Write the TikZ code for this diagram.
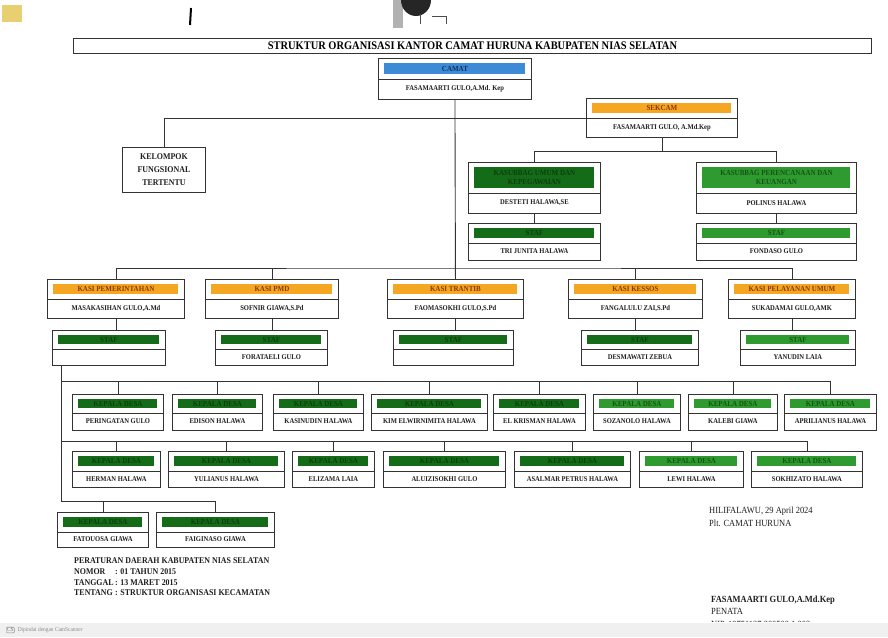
\documentclass[tikz,border=0pt]{standalone}
\usepackage{fontspec}
\setmainfont{Liberation Serif}[FakeStretch=0.9]
\usetikzlibrary{calc}
\definecolor{lnc}{HTML}{333333}
\definecolor{bluebar}{HTML}{3D8AD6}
\definecolor{bluetxt}{HTML}{10305F}
\definecolor{orangebar}{HTML}{F5A623}
\definecolor{orangetxt}{HTML}{8B3A00}
\definecolor{greenbar}{HTML}{146C18}
\definecolor{greentxt}{HTML}{0B3F0D}
\definecolor{greenbarb}{HTML}{2E9A2F}
\definecolor{greentxtb}{HTML}{135514}
\definecolor{inkc}{HTML}{1E1E1E}
\tikzset{
  unitbox/.style={draw=lnc, line width=0.9pt, fill=white, inner sep=0pt},
  hbar/.style={draw=none, inner sep=0pt, align=center, font=\bfseries\fontsize{7.8}{8.6}\selectfont},
  bbar/.style={fill=bluebar, text=bluetxt},
  obar/.style={fill=orangebar, text=orangetxt},
  gbar/.style={fill=greenbar, text=greentxt},
  gbarb/.style={fill=greenbarb, text=greentxtb},
  pname/.style={inner sep=0pt, text=inkc, font=\bfseries\fontsize{7.3}{8}\selectfont},
  conn/.style={draw=lnc, line width=0.9pt},
  divline/.style={draw=lnc, line width=0.6pt},
  note/.style={inner sep=0pt, text=inkc, anchor=west},
}
% #1 name, #2 x, #3 y, #4 width, #5 height, #6 bar style, #7 bar height, #8 header, #9 person
\newcommand{\orgbox}[9]{%
  \node[unitbox, minimum width=#4pt, minimum height=#5pt, anchor=north west] (#1) at (#2,#3) {};
  \node[hbar, #6, minimum width=#4pt-12pt, minimum height=#7pt, anchor=north] (#1-h) at ($(#1.north)+(0,5)$) {#8};
  \draw[divline] ($(#1.north west)+(0,10+#7)$) -- ($(#1.north east)+(0,10+#7)$);
  \node[pname] (#1-p) at ($(#1.north)+(0,{(10+#7+#5)/2})$) {#9};
}
\begin{document}
\begin{tikzpicture}[x=1pt,y=-1pt]
\useasboundingbox (0,0) rectangle (888,637);
\fill[white] (0,0) rectangle (888,637);
\fill[black!6] (0,623) rectangle (888,637);
% scan artifacts at top
\fill[yellow!45!brown!70] (2,5) rectangle (22,22);
\draw[black, line width=2pt] (191,8) -- (190,25);
\fill[black!30] (393,0) rectangle (403,28);
\fill[black!85] (416,0) ellipse [x radius=15, y radius=16];
\draw[black!70, line width=0.8pt] (420,14) -- (420,24) (432,16) -- (446,16) -- (446,24);

% title
\node[unitbox, minimum width=798pt, minimum height=15pt, anchor=north west,
      font=\bfseries\fontsize{11.6}{12}\selectfont] (title) at (73,38)
      {STRUKTUR ORGANISASI KANTOR CAMAT HURUNA KABUPATEN NIAS SELATAN};

% top units
\orgbox{camat}{378}{58}{153}{41}{bbar}{11}{CAMAT}{FASAMAARTI GULO,A.Md. Kep}
\orgbox{sekcam}{586}{98}{151}{39}{obar}{10}{SEKCAM}{FASAMAARTI GULO, A.Md.Kep}
\node[unitbox, minimum width=83pt, minimum height=45pt, anchor=north west, align=center,
      text=inkc, font=\bfseries\fontsize{8.8}{13}\selectfont] (kft) at (122,147)
      {KELOMPOK\\FUNGSIONAL\\TERTENTU};
\orgbox{umum}{468}{162}{132}{51}{gbar}{21}{KASUBBAG UMUM DAN\\KEPEGAWAIAN}{DESTETI HALAWA,SE}
\orgbox{renc}{696}{162}{160}{51}{gbarb}{21}{KASUBBAG PERENCANAAN DAN\\KEUANGAN}{POLINUS HALAWA}
\orgbox{ustaf}{468}{223}{132}{37}{gbar}{10}{STAF}{TRI JUNITA HALAWA}
\orgbox{rstaf}{696}{223}{160}{37}{gbarb}{10}{STAF}{FONDASO GULO}

% KASI row
\orgbox{kpem}{47}{279}{137}{39}{obar}{10}{KASI PEMERINTAHAN}{MASAKASIHAN GULO,A.Md}
\orgbox{kpmd}{205}{279}{133}{39}{obar}{10}{KASI PMD}{SOFNIR GIAWA,S.Pd}
\orgbox{ktra}{387}{279}{136}{39}{obar}{10}{KASI TRANTIB}{FAOMASOKHI GULO,S.Pd}
\orgbox{kkes}{568}{279}{134}{39}{obar}{10}{KASI KESSOS}{FANGALULU ZAI,S.Pd}
\orgbox{kpel}{728}{279}{127}{39}{obar}{10}{KASI PELAYANAN UMUM}{SUKADAMAI GULO,AMK}

% STAF row
\orgbox{spem}{52}{330}{113}{35}{gbar}{9}{STAF}{}
\orgbox{spmd}{215}{330}{112}{35}{gbar}{9}{STAF}{FORATAELI GULO}
\orgbox{stra}{393}{330}{120}{35}{gbar}{9}{STAF}{}
\orgbox{skes}{581}{330}{117}{35}{gbar}{9}{STAF}{DESMAWATI ZEBUA}
\orgbox{spel}{740}{330}{115}{35}{gbarb}{9}{STAF}{YANUDIN LAIA}

% row 3
\orgbox{r3a}{72}{394}{91}{36}{gbar}{9}{KEPALA DESA}{PERINGATAN GULO}
\orgbox{r3b}{172}{394}{90}{36}{gbar}{9}{KEPALA DESA}{EDISON HALAWA}
\orgbox{r3c}{273}{394}{90}{36}{gbar}{9}{KEPALA DESA}{KASINUDIN HALAWA}
\orgbox{r3d}{371}{394}{116}{36}{gbar}{9}{KEPALA DESA}{KIM ELWIRNIMITA HALAWA}
\orgbox{r3e}{493}{394}{92}{36}{gbar}{9}{KEPALA DESA}{EL KRISMAN HALAWA}
\orgbox{r3f}{593}{394}{87}{36}{gbarb}{9}{KEPALA DESA}{SOZANOLO HALAWA}
\orgbox{r3g}{688}{394}{89}{36}{gbarb}{9}{KEPALA DESA}{KALEBI GIAWA}
\orgbox{r3h}{784}{394}{92}{36}{gbarb}{9}{KEPALA DESA}{APRILIANUS HALAWA}

% row 4
\orgbox{r4a}{72}{451}{88}{36}{gbar}{10}{KEPALA DESA}{HERMAN HALAWA}
\orgbox{r4b}{168}{451}{116}{36}{gbar}{10}{KEPALA DESA}{YULIANUS HALAWA}
\orgbox{r4c}{292}{451}{82}{36}{gbar}{10}{KEPALA DESA}{ELIZAMA LAIA}
\orgbox{r4d}{383}{451}{122}{36}{gbar}{10}{KEPALA DESA}{ALUIZISOKHI GULO}
\orgbox{r4e}{514}{451}{116}{36}{gbar}{10}{KEPALA DESA}{ASALMAR PETRUS HALAWA}
\orgbox{r4f}{639}{451}{104}{36}{gbarb}{10}{KEPALA DESA}{LEWI HALAWA}
\orgbox{r4g}{751}{451}{111}{36}{gbarb}{10}{KEPALA DESA}{SOKHIZATO HALAWA}

% row 5
\orgbox{r5a}{57}{512}{91}{35}{gbar}{10}{KEPALA DESA}{FATOUOSA GIAWA}
\orgbox{r5b}{156}{512}{118}{35}{gbar}{10}{KEPALA DESA}{FAIGINASO GIAWA}

% connectors
\coordinate (busK) at (453,268);
\draw[conn] (camat.south) -- (ktra.north);
\draw[conn] (kft.north) |- (sekcam.west);
\path (sekcam.south) ++(0,14) coordinate (sbus);
\draw[conn] (sekcam.south) -- (sbus);
\draw[conn] (umum.north) |- (sbus) -| (renc.north);
\draw[conn] (umum.south) -- (ustaf.north);
\draw[conn] (renc.south) -- (rstaf.north);
\draw[conn] (kpem.north) |- (busK) -| (kpel.north);
\foreach \n in {kpmd,kkes} \draw[conn] (\n.north) -- (\n.north |- busK);
\foreach \a/\b in {kpem/spem,kpmd/spmd,ktra/stra,kkes/skes,kpel/spel}
  \draw[conn] (\a.south) -- (\a.south |- \b.north);
\coordinate (L0) at (61,365);
\coordinate (L3) at (61,381);
\coordinate (L4) at (61,441);
\coordinate (L5) at (61,501);
\draw[conn] (L0) -- (L5) -| (r5b.north);
\draw[conn] (r5a.north) -- (r5a.north |- L5);
\draw[conn] (L3) -| (r3h.north);
\foreach \n in {r3a,r3b,r3c,r3d,r3e,r3f,r3g} \draw[conn] (\n.north) -- (\n.north |- L3);
\draw[conn] (L4) -| (r4g.north);
\foreach \n in {r4a,r4b,r4c,r4d,r4e,r4f} \draw[conn] (\n.north) -- (\n.north |- L4);

% notes bottom left
\node[note, font=\bfseries\fontsize{8.8}{9}\selectfont] (perda) at (74,561) {PERATURAN DAERAH KABUPATEN NIAS SELATAN};
\node[note, anchor=north west, font=\bfseries\fontsize{8.8}{10.6}\selectfont] (perdadet) at (74,567)
  {\begin{tabular}{@{}l@{\,}l@{}}NOMOR & : 01 TAHUN 2015\\ TANGGAL & : 13 MARET 2015\\ TENTANG & : STRUKTUR ORGANISASI KECAMATAN\end{tabular}};

% signature right
\node[note, font=\fontsize{9.4}{10}\selectfont] (date) at (709,511) {HILIFALAWU, 29 April 2024};
\node[note, font=\fontsize{9.4}{10}\selectfont] (plt) at (709,523) {Plt. CAMAT HURUNA};
\node[note, font=\bfseries\fontsize{9.4}{10}\selectfont] (sig) at (711,600) {FASAMAARTI GULO,A.Md.Kep};
\node[note, font=\fontsize{9.4}{10}\selectfont] (pen) at (711,611) {PENATA};
\begin{scope}
\clip (700,615) rectangle (860,621);
\node[note, font=\fontsize{9.4}{10}\selectfont] (nip) at (711,624) {NIP. 19751127 200502 1 003};
\end{scope}

% scanner mark
\node[draw=black!45, rounded corners=1pt, inner sep=0.8pt, text=black!55,
      font=\fontsize{6}{6.5}\selectfont, anchor=west] (cs) at (6,630) {CS};
\node[note, text=black!45, font=\fontsize{6}{6.5}\selectfont] (csx) at ([xshift=3pt]cs.east) {Dipindai dengan CamScanner};
\end{tikzpicture}
\end{document}
